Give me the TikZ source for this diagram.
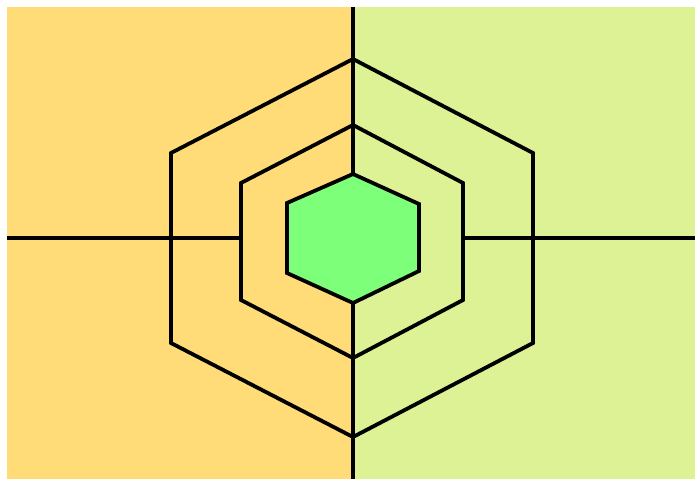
\documentclass[tikz,border=0pt]{standalone}
\definecolor{warm}{HTML}{FFDC78}
\definecolor{lime}{HTML}{DCF294}
\definecolor{bright}{HTML}{7DFF7A}
\begin{document}
\begin{tikzpicture}[x=1pt,y=-1pt,line join=miter,
  edge/.style={draw=black,line width=3.8pt}]
\useasboundingbox (0,0) rectangle (695,479);
\fill[warm] (7,7) rectangle (353,479);
\fill[lime] (353,7) rectangle (695,479);
% named points
\coordinate (lt) at (353,7);
\coordinate (lb) at (353,479);
\coordinate (ll) at (7,238);
\coordinate (lr) at (695,238);
% outer hexagon
\coordinate (o1) at (353,59);
\coordinate (o2) at (533,153);
\coordinate (o3) at (533,343);
\coordinate (o4) at (353,437);
\coordinate (o5) at (171,343);
\coordinate (o6) at (171,153);
% middle hexagon
\coordinate (m1) at (353,125);
\coordinate (m2) at (463,183);
\coordinate (m3) at (463,300);
\coordinate (m4) at (353,358);
\coordinate (m5) at (241,300);
\coordinate (m6) at (241,183);
\coordinate (mL) at (241,238);
\coordinate (mR) at (463,238);
% inner hexagon
\coordinate (i1) at (353,174);
\coordinate (i2) at (419,204);
\coordinate (i3) at (419,271);
\coordinate (i4) at (353,303);
\coordinate (i5) at (287,273);
\coordinate (i6) at (287,203);
\draw[edge] (o1) -- (o2) -- (o3) -- (o4) -- (o5) -- (o6) -- cycle;
\draw[edge] (m1) -- (m2) -- (m3) -- (m4) -- (m5) -- (m6) -- cycle;
\draw[edge,fill=bright] (i1) -- (i2) -- (i3) -- (i4) -- (i5) -- (i6) -- cycle;
\draw[edge] (lt) -- (i1);
\draw[edge] (i4) -- (lb);
\draw[edge] (ll) -- (mL);
\draw[edge] (mR) -- (lr);
\end{tikzpicture}
\end{document}
